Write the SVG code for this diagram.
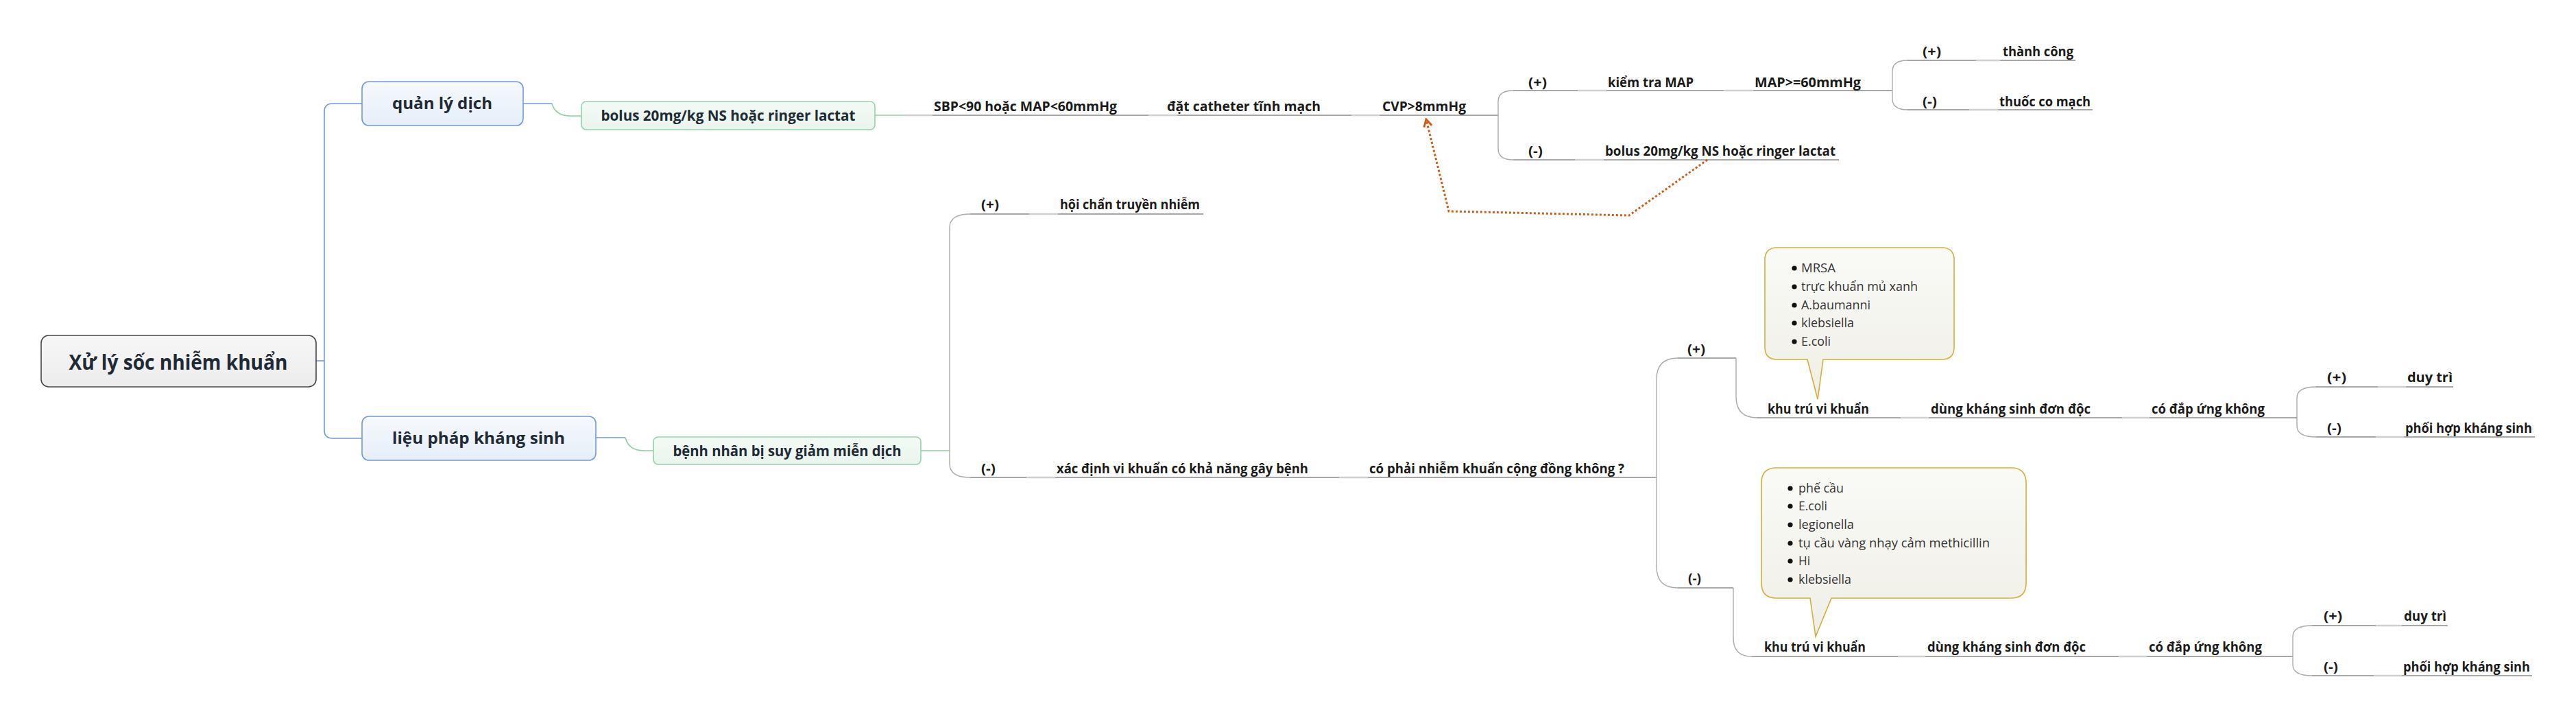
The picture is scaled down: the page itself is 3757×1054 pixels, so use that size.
<svg xmlns="http://www.w3.org/2000/svg" width="3757" height="1054" viewBox="0 0 3757 1054">
<defs>
<linearGradient id="gRoot" x1="0" y1="0" x2="0" y2="1"><stop offset="0" stop-color="#f7f7f7"/><stop offset="1" stop-color="#ececec"/></linearGradient>
<linearGradient id="gBlue" x1="0" y1="0" x2="0" y2="1"><stop offset="0" stop-color="#f6f9fd"/><stop offset="1" stop-color="#e5eef9"/></linearGradient>
<linearGradient id="gGreen" x1="0" y1="0" x2="0" y2="1"><stop offset="0" stop-color="#f3faf5"/><stop offset="1" stop-color="#e8f5ec"/></linearGradient>
<linearGradient id="gNote" x1="0" y1="0" x2="0" y2="1"><stop offset="0" stop-color="#fafaf7"/><stop offset="1" stop-color="#efeee6"/></linearGradient>
<marker id="ah" viewBox="0 0 12 12" refX="10" refY="6" markerWidth="14" markerHeight="14" orient="auto" markerUnits="userSpaceOnUse"><path d="M1,1 L10,6 L1,11" fill="none" stroke="#cd5c14" stroke-width="2.5"/></marker>
<style>
.box-t{font-family:'Open Sans','Noto Sans','Liberation Sans',sans-serif;font-weight:700;fill:#1e2a36;text-anchor:middle}
.lbl{font-family:'Open Sans','Noto Sans','Liberation Sans',sans-serif;font-weight:700;font-size:19.5px;fill:#1a1a1a}
.note{font-family:'Open Sans','Noto Sans','Liberation Sans',sans-serif;font-weight:400;font-size:19px;fill:#333}
.ul{stroke:#8c8c8c;stroke-width:1.6;fill:none}
.cn{stroke:#d0d0d0;stroke-width:2.6;fill:none}
.br{stroke:#ababab;stroke-width:1.4;fill:none}
.blue{stroke:#6f9bd6;stroke-width:1.6;fill:none}
.green{stroke:#8ccfa1;stroke-width:1.6;fill:none}
.dot{stroke:#cd5c14;stroke-width:3;stroke-dasharray:3 3;fill:none}
.callout{fill:url(#gNote);stroke:#d4ae3a;stroke-width:1.6}
</style>
</defs>
<rect width="3757" height="1054" fill="#ffffff"/>

<g id="connectors">
<path class="blue" d="M461,526 H473"/>
<path class="blue" d="M528,151 H485 Q473,151 473,163 V627 Q473,639 485,639 H528"/>
<path class="blue" d="M763,151 H805"/>
<path class="green" d="M805,151 Q810,169 832,169 H848"/>
<path class="blue" d="M869,638 H912"/>
<path class="green" d="M912,638 Q917,657 939,657 H954"/>
<path class="green" d="M1276,168 H1318"/>
<path class="green" d="M1342,657 H1385"/>
<path class="cn" d="M1318,168 H1360 M1675,168 H1717 M1971,168 H2012"/>
<path class="ul" d="M1360,168 H1675 M1717,168 H1971 M2012,168 H2185"/>
<path class="br" d="M2207,132 Q2185,132 2185,148 V217 Q2185,233 2207,233"/>
<path class="ul" d="M2207,132 H2301 M2343,132 H2514 M2557,132 H2760"/>
<path class="cn" d="M2301,132 H2343 M2514,132 H2557"/>
<path class="br" d="M2782,88 Q2760,88 2760,104 V144 Q2760,160 2782,160"/>
<path class="ul" d="M2782,88 H2882 M2917,88 H3027 M2782,160 H2872 M2914,160 H3052"/>
<path class="cn" d="M2882,88 H2917 M2872,160 H2914"/>
<path class="ul" d="M2207,233 H2297 M2339,233 H2682"/>
<path class="cn" d="M2297,233 H2339"/>
<path class="br" d="M1415,312 Q1385,312 1385,332 V676 Q1385,696 1415,696"/>
<path class="ul" d="M1415,312 H1501 M1543,312 H1755"/>
<path class="cn" d="M1501,312 H1543"/>
<path class="ul" d="M1415,696 H1497 M1539,696 H1953 M1995,696 H2416"/>
<path class="cn" d="M1497,696 H1539 M1953,696 H1995"/>
<path class="br" d="M2447,522 Q2416,522 2416,553 V826 Q2416,857 2447,857"/>
<path class="ul" d="M2447,522 H2532 M2447,857 H2528"/>
<path class="br" d="M2532,522 V578 Q2532,609 2563,609"/>
<path class="br" d="M2528,857 V930 Q2528,957 2555,957"/>
<path class="ul" d="M2563,609 H2772 M2813,609 H3095 M3135,609 H3350"/>
<path class="cn" d="M2772,609 H2813 M3095,609 H3135"/>
<path class="br" d="M3378,564 Q3350,564 3350,580 V621 Q3350,637 3378,637"/>
<path class="ul" d="M3378,564 H3468 M3509,564 H3578 M3378,637 H3465 M3506,637 H3697"/>
<path class="cn" d="M3468,564 H3509 M3465,637 H3506"/>
<path class="ul" d="M2555,957 H2768 M2808,957 H3090 M3131,957 H3344"/>
<path class="cn" d="M2768,957 H2808 M3090,957 H3131"/>
<path class="br" d="M3372,912 Q3344,912 3344,928 V969 Q3344,985 3372,985"/>
<path class="ul" d="M3372,912 H3465 M3503,912 H3570 M3372,985 H3462 M3503,985 H3693"/>
<path class="cn" d="M3465,912 H3503 M3462,985 H3503"/>
<path class="dot" d="M2490,233 L2376,314 L2113,308 L2080,174" marker-end="url(#ah)"/>
</g>

<g id="root">
<rect x="60" y="489" width="401" height="75" rx="11" fill="url(#gRoot)" stroke="#474747" stroke-width="1.6"/>
<text class="box-t" x="260" y="539" font-size="31" textLength="319" lengthAdjust="spacingAndGlyphs" fill="#222">Xử lý sốc nhiễm khuẩn</text>
</g>
<g id="quan-ly-dich">
<rect x="528" y="119" width="235" height="64" rx="10" fill="url(#gBlue)" stroke="#6f9bd6" stroke-width="1.6"/>
<text class="box-t" x="645" y="159" font-size="24" textLength="146" lengthAdjust="spacingAndGlyphs">quản lý dịch</text>
</g>
<g id="lieu-phap">
<rect x="528" y="607" width="341" height="64" rx="10" fill="url(#gBlue)" stroke="#6f9bd6" stroke-width="1.6"/>
<text class="box-t" x="698" y="647" font-size="24" textLength="252" lengthAdjust="spacingAndGlyphs">liệu pháp kháng sinh</text>
</g>
<g id="bolus-box">
<rect x="848" y="148" width="428" height="41" rx="7" fill="url(#gGreen)" stroke="#94d3a8" stroke-width="1.6"/>
<text class="box-t" x="1062" y="176" font-size="21" textLength="371" lengthAdjust="spacingAndGlyphs">bolus 20mg/kg NS hoặc ringer lactat</text>
</g>
<g id="benh-nhan-box">
<rect x="953" y="637" width="390" height="40" rx="7" fill="url(#gGreen)" stroke="#94d3a8" stroke-width="1.6"/>
<text class="box-t" x="1148" y="665" font-size="21" textLength="333" lengthAdjust="spacingAndGlyphs">bệnh nhân bị suy giảm miễn dịch</text>
</g>

<g id="n-sbp"><text class="lbl" x="1362" y="162" textLength="267" lengthAdjust="spacingAndGlyphs">SBP&lt;90 hoặc MAP&lt;60mmHg</text></g>
<g id="n-catheter"><text class="lbl" x="1702" y="162" textLength="224" lengthAdjust="spacingAndGlyphs">đặt catheter tĩnh mạch</text></g>
<g id="n-cvp"><text class="lbl" x="2016" y="162" textLength="122" lengthAdjust="spacingAndGlyphs">CVP&gt;8mmHg</text></g>
<g id="n-cvp-plus"><text class="lbl" x="2229" y="127" textLength="27" lengthAdjust="spacingAndGlyphs">(+)</text></g>
<g id="n-kiem-tra"><text class="lbl" x="2345" y="127" textLength="125" lengthAdjust="spacingAndGlyphs">kiểm tra MAP</text></g>
<g id="n-map60"><text class="lbl" x="2559" y="127" textLength="155" lengthAdjust="spacingAndGlyphs">MAP&gt;=60mmHg</text></g>
<g id="n-map-plus"><text class="lbl" x="2804" y="82" textLength="27" lengthAdjust="spacingAndGlyphs">(+)</text></g>
<g id="n-thanh-cong"><text class="lbl" x="2921" y="82" textLength="103" lengthAdjust="spacingAndGlyphs">thành công</text></g>
<g id="n-map-minus"><text class="lbl" x="2804" y="155" textLength="21" lengthAdjust="spacingAndGlyphs">(-)</text></g>
<g id="n-thuoc"><text class="lbl" x="2916" y="155" textLength="133" lengthAdjust="spacingAndGlyphs">thuốc co mạch</text></g>
<g id="n-cvp-minus"><text class="lbl" x="2229" y="227" textLength="21" lengthAdjust="spacingAndGlyphs">(-)</text></g>
<g id="n-bolus2"><text class="lbl" x="2341" y="227" textLength="336" lengthAdjust="spacingAndGlyphs">bolus 20mg/kg NS hoặc ringer lactat</text></g>
<g id="n-bn-plus"><text class="lbl" x="1431" y="305" textLength="26" lengthAdjust="spacingAndGlyphs">(+)</text></g>
<g id="n-hoi-chan"><text class="lbl" x="1546" y="305" textLength="204" lengthAdjust="spacingAndGlyphs">hội chẩn truyền nhiễm</text></g>
<g id="n-bn-minus"><text class="lbl" x="1431" y="690" textLength="21" lengthAdjust="spacingAndGlyphs">(-)</text></g>
<g id="n-xac-dinh"><text class="lbl" x="1541" y="690" textLength="367" lengthAdjust="spacingAndGlyphs">xác định vi khuẩn có khả năng gây bệnh</text></g>
<g id="n-co-phai"><text class="lbl" x="1997" y="690" textLength="372" lengthAdjust="spacingAndGlyphs">có phải nhiễm khuẩn cộng đồng không ?</text></g>
<g id="n-cp-plus"><text class="lbl" x="2461" y="516" textLength="26" lengthAdjust="spacingAndGlyphs">(+)</text></g>
<g id="n-khu-tru-1"><text class="lbl" x="2578" y="603" textLength="148" lengthAdjust="spacingAndGlyphs">khu trú vi khuẩn</text></g>
<g id="n-dung-1"><text class="lbl" x="2816" y="603" textLength="233" lengthAdjust="spacingAndGlyphs">dùng kháng sinh đơn độc</text></g>
<g id="n-dap-ung-1"><text class="lbl" x="3138" y="603" textLength="165" lengthAdjust="spacingAndGlyphs">có đắp ứng không</text></g>
<g id="n-du-plus-1"><text class="lbl" x="3394" y="557" textLength="28" lengthAdjust="spacingAndGlyphs">(+)</text></g>
<g id="n-duy-tri-1"><text class="lbl" x="3511" y="557" textLength="66" lengthAdjust="spacingAndGlyphs">duy trì</text></g>
<g id="n-du-minus-1"><text class="lbl" x="3394" y="631" textLength="21" lengthAdjust="spacingAndGlyphs">(-)</text></g>
<g id="n-phoi-hop-1"><text class="lbl" x="3508" y="631" textLength="185" lengthAdjust="spacingAndGlyphs">phối hợp kháng sinh</text></g>
<g id="n-cp-minus"><text class="lbl" x="2462" y="850" textLength="19" lengthAdjust="spacingAndGlyphs">(-)</text></g>
<g id="n-khu-tru-2"><text class="lbl" x="2573" y="950" textLength="148" lengthAdjust="spacingAndGlyphs">khu trú vi khuẩn</text></g>
<g id="n-dung-2"><text class="lbl" x="2811" y="950" textLength="231" lengthAdjust="spacingAndGlyphs">dùng kháng sinh đơn độc</text></g>
<g id="n-dap-ung-2"><text class="lbl" x="3134" y="950" textLength="165" lengthAdjust="spacingAndGlyphs">có đắp ứng không</text></g>
<g id="n-du-plus-2"><text class="lbl" x="3389" y="905" textLength="27" lengthAdjust="spacingAndGlyphs">(+)</text></g>
<g id="n-duy-tri-2"><text class="lbl" x="3506" y="905" textLength="62" lengthAdjust="spacingAndGlyphs">duy trì</text></g>
<g id="n-du-minus-2"><text class="lbl" x="3389" y="979" textLength="21" lengthAdjust="spacingAndGlyphs">(-)</text></g>
<g id="n-phoi-hop-2"><text class="lbl" x="3505" y="979" textLength="185" lengthAdjust="spacingAndGlyphs">phối hợp kháng sinh</text></g>

<g id="callout-1">
<path class="callout" d="M2592,361 H2832 Q2850,361 2850,379 V506 Q2850,524 2832,524 H2659 L2651,582 L2636,524 H2592 Q2574,524 2574,506 V379 Q2574,361 2592,361 Z"/>
<g fill="#111"><circle cx="2617" cy="391" r="3.6"/><circle cx="2617" cy="418" r="3.6"/><circle cx="2617" cy="445" r="3.6"/><circle cx="2617" cy="471" r="3.6"/><circle cx="2617" cy="498" r="3.6"/></g>
<text class="note" x="2627" y="397" textLength="50" lengthAdjust="spacingAndGlyphs">MRSA</text>
<text class="note" x="2627" y="424" textLength="170" lengthAdjust="spacingAndGlyphs">trực khuẩn mủ xanh</text>
<text class="note" x="2627" y="451" textLength="101" lengthAdjust="spacingAndGlyphs">A.baumanni</text>
<text class="note" x="2627" y="477" textLength="77" lengthAdjust="spacingAndGlyphs">klebsiella</text>
<text class="note" x="2627" y="504" textLength="43" lengthAdjust="spacingAndGlyphs">E.coli</text>
</g>
<g id="callout-2">
<path class="callout" d="M2591,682 H2933 Q2955,682 2955,704 V850 Q2955,872 2933,872 H2671 L2648,928 L2640,872 H2591 Q2569,872 2569,850 V704 Q2569,682 2591,682 Z"/>
<g fill="#111"><circle cx="2611" cy="712" r="3.6"/><circle cx="2611" cy="738" r="3.6"/><circle cx="2611" cy="765" r="3.6"/><circle cx="2611" cy="792" r="3.6"/><circle cx="2611" cy="818" r="3.6"/><circle cx="2611" cy="845" r="3.6"/></g>
<text class="note" x="2623" y="718" textLength="66" lengthAdjust="spacingAndGlyphs">phế cầu</text>
<text class="note" x="2623" y="744" textLength="42" lengthAdjust="spacingAndGlyphs">E.coli</text>
<text class="note" x="2623" y="771" textLength="81" lengthAdjust="spacingAndGlyphs">legionella</text>
<text class="note" x="2623" y="798" textLength="279" lengthAdjust="spacingAndGlyphs">tụ cầu vàng nhạy cảm methicillin</text>
<text class="note" x="2623" y="824" textLength="17" lengthAdjust="spacingAndGlyphs">Hi</text>
<text class="note" x="2623" y="851" textLength="77" lengthAdjust="spacingAndGlyphs">klebsiella</text>
</g>
</svg>
